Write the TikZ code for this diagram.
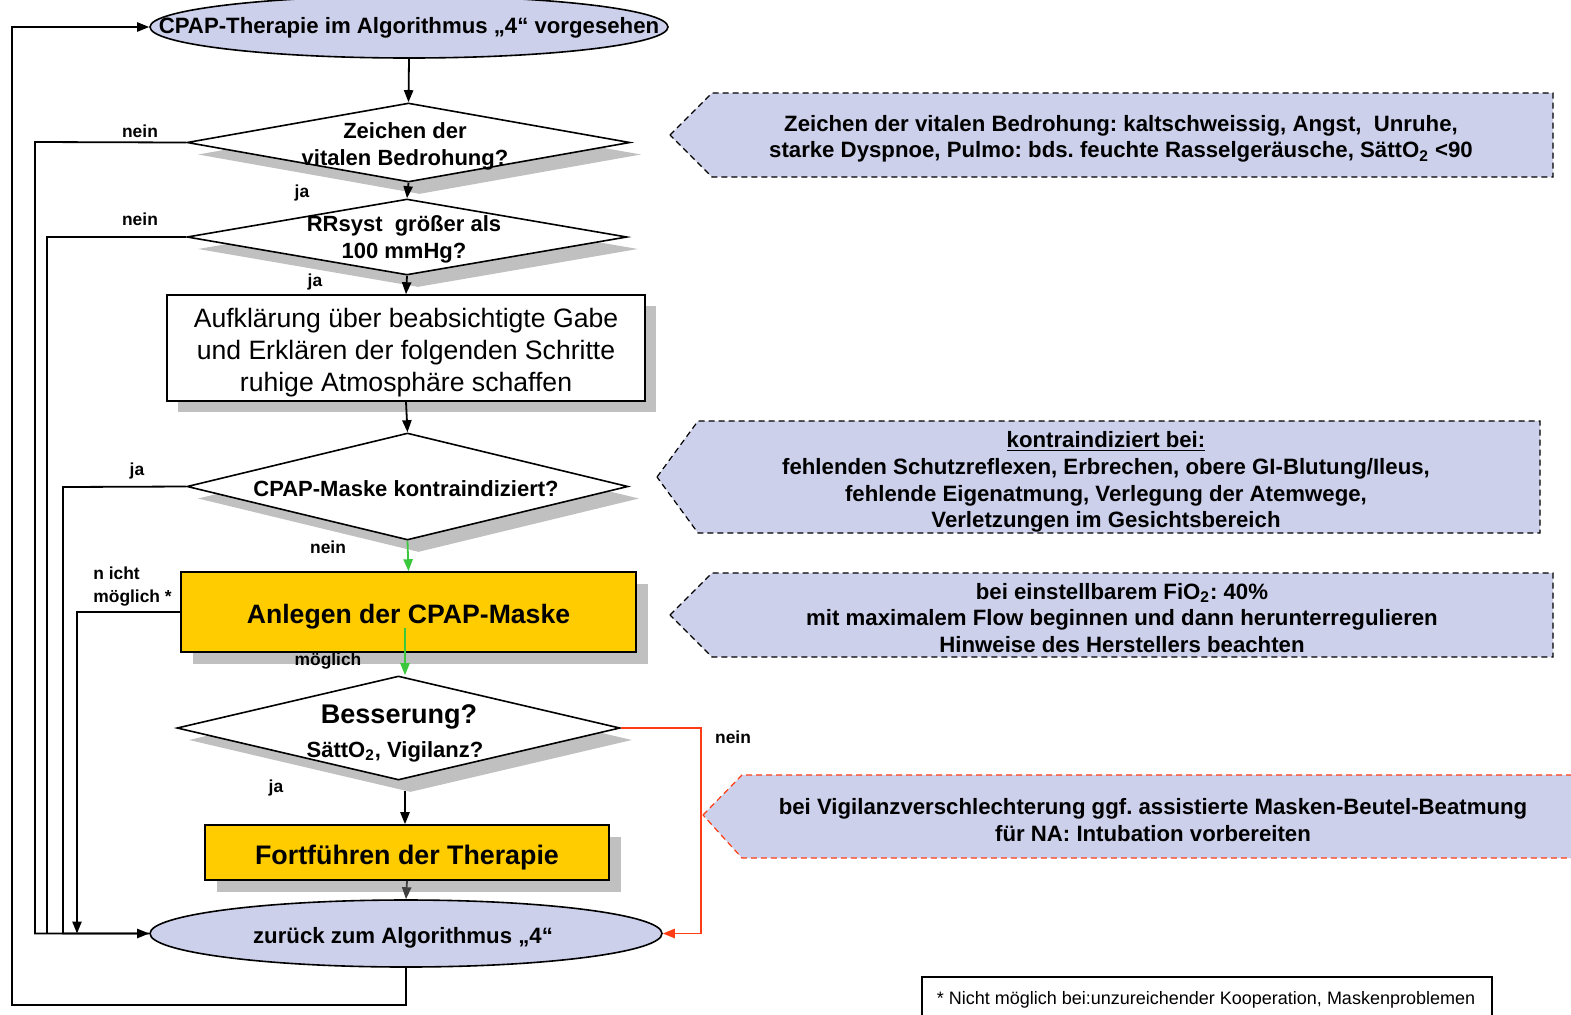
\documentclass[tikz,border=0pt]{standalone}
\usepackage{fontspec}
\setmainfont{Liberation Sans}
\usetikzlibrary{shapes.geometric,arrows.meta,calc}
\frenchspacing

\definecolor{lav}{RGB}{204,208,234}
\definecolor{gold}{RGB}{255,204,0}
\definecolor{shade}{RGB}{192,192,192}
\definecolor{okgreen}{RGB}{60,200,60}
\definecolor{alarm}{RGB}{255,60,20}

\tikzset{
  tip/.style={-{Triangle[length=6pt,width=4.6pt]}},
  conn/.style={line width=0.9pt, tip},
  wire/.style={line width=0.9pt},
  lbl/.style={font=\bfseries\fontsize{8.7}{11.5}\selectfont, inner sep=0pt, align=left},
  term/.style={ellipse, draw, fill=lav, line width=0.8pt, inner sep=0pt},
  termtext/.style={font=\bfseries\fontsize{11.1}{13}\selectfont, inner sep=0pt},
  decision/.style={diamond, draw, fill=white, line width=0.8pt, inner sep=0pt},
  decshadow/.style={diamond, fill=shade, inner sep=0pt},
  dtext/.style={font=\bfseries\fontsize{11}{13.5}\selectfont, align=center, inner sep=0pt},
  stepbox/.style={draw, line width=0.8pt, inner sep=0pt},
  boxshadow/.style={fill=shade, inner sep=0pt},
  boxtext/.style={font=\fontsize{13.3}{16}\selectfont, align=center, inner sep=0pt},
  bigtext/.style={font=\bfseries\fontsize{13.3}{15}\selectfont, inner sep=0pt},
  note/.style={fill=lav, dashed, dash pattern=on 3pt off 2pt, line width=0.6pt},
  notetext/.style={font=\bfseries\fontsize{11.1}{13.3}\selectfont, align=center, inner sep=0pt},
}

\begin{document}
\begin{tikzpicture}[x=0.5pt,y=-0.5pt]
\useasboundingbox (0,0) rectangle (1571,1014);

% ---- start terminal ----
\node[term, minimum width=259pt, minimum height=31pt] (start) at (409,27) {};
\node[termtext] (startt) at (409,28) {CPAP-Therapie im Algorithmus „4“ vorgesehen};

% ---- decision 1 ----
\node[decshadow, minimum width=221.5pt, minimum height=39.5pt] (d1s) at (419.5,154.5) {};
\node[decision, minimum width=221.5pt, minimum height=39.5pt] (d1) at (408.5,142.5) {};
\node[dtext] (d1t) at (405,146) {Zeichen der\\vitalen Bedrohung?};

% ---- decision 2 ----
\node[decshadow, minimum width=220pt, minimum height=38pt] (d2s) at (418,249) {};
\node[decision, minimum width=220pt, minimum height=38pt] (d2) at (407,237) {};
\node[dtext] (d2t) at (404,239.5) {RRsyst\ \ größer als\\100 mmHg?};

% ---- information box ----
\node[boxshadow, minimum width=239pt, minimum height=53pt] (infos) at (417,359) {};
\node[stepbox, fill=white, minimum width=239pt, minimum height=53pt] (info) at (406,348) {};
\node[boxtext] (infot) at (406,353)
  {Aufklärung über beabsichtigte Gabe\\und Erklären der folgenden Schritte\\ruhige Atmosphäre schaffen};

% ---- decision 3 ----
\node[decshadow, minimum width=220.5pt, minimum height=53.5pt] (d3s) at (418.5,498.5) {};
\node[decision, minimum width=220.5pt, minimum height=53.5pt] (d3) at (407.5,486.5) {};
\node[dtext] (d3t) at (406,489) {CPAP-Maske kontraindiziert?};

% ---- apply mask ----
\node[boxshadow, minimum width=227.5pt, minimum height=40pt] (masks) at (420.5,624) {};
\node[stepbox, fill=gold, minimum width=227.5pt, minimum height=40pt] (mask) at (408.5,612) {};
\node[bigtext] (maskt) at (408.5,617) {Anlegen der CPAP-Maske};

% ---- decision 4 ----
\node[decshadow, minimum width=221.5pt, minimum height=52pt] (d4s) at (410.5,740) {};
\node[decision, minimum width=221.5pt, minimum height=52pt] (d4) at (398.5,728) {};
\node[bigtext, font=\bfseries\fontsize{13.5}{15}\selectfont] (d4t) at (399,717) {Besserung?};
\node[dtext] (d4u) at (395,752) {SättO\textsubscript{2}, Vigilanz?};

% ---- continue therapy ----
\node[boxshadow, minimum width=202pt, minimum height=27.5pt] (conts) at (419,864.5) {};
\node[stepbox, fill=gold, minimum width=202pt, minimum height=27.5pt] (cont) at (407,852.5) {};
\node[bigtext, font=\bfseries\fontsize{13.4}{15}\selectfont] (contt) at (407,857.5) {Fortführen der Therapie};

% ---- end terminal ----
\node[term, minimum width=256pt, minimum height=33.5pt] (back) at (406,933.5) {};
\node[termtext] (backt) at (403,938) {zurück zum Algorithmus „4“};

% ---- main column connectors ----
\draw[conn] (start.south) -- (d1.north);
\draw[conn] (d1.south) -- (d2.north);
\draw[conn] (d2.south) -- (info.north);
\draw[conn] (info.south) -- (d3.north);
\draw[conn, okgreen] (d3.south) -- (mask.north);
\coordinate (maskout) at (405,628);
\draw[conn, okgreen] (maskout) -- (d4.north -| maskout);
\draw[conn] (d4.south -| maskout) ++(0,10) -- (cont.north -| maskout);
\draw[conn, black!75] (cont.south) -- (back.north);

% ---- side branches into the end terminal ----
\coordinate (railA) at (35,142);
\coordinate (railB) at (47,237);
\coordinate (railC) at (63,487);
\coordinate (railD) at (77,933.5);
\draw[conn] (d1.west) -- (railA) |- (back.west);
\draw[wire] (d2.west) -- (railB) |- (back.west);
\draw[wire] (d3.west) -- (railC) |- (back.west);
\draw[conn] (mask.west) -| (railD);
\draw[conn, alarm] (d4.east) -- ++(80,0) |- (back.east);

% ---- loop back to the start ----
\coordinate (loop) at (12,1005);
\draw[conn] (back.south) |- (loop) |- (start.west);

% ---- branch labels ----
\node[lbl] at (140,131) {nein};
\node[lbl] at (302,193) {ja};
\node[lbl] at (140,219) {nein};
\node[lbl] at (315,282) {ja};
\node[lbl] at (137,471) {ja};
\node[lbl] at (328,547) {nein};
\node[lbl, anchor=west] at (93,587) {n icht\\möglich *};
\node[lbl] at (328,661) {möglich};
\node[lbl] at (733,737) {nein};
\node[lbl] at (276,788) {ja};

% ---- hint callouts ----
\draw[note] (670,135) -- (712,93) -- (1553,93) -- (1553,177) -- (712,177) -- cycle;
\node[notetext] (hint1) at (1121,139)
  {Zeichen der vitalen Bedrohung: kaltschweissig, Angst,\ \ Unruhe,\\
   starke Dyspnoe, Pulmo: bds. feuchte Rasselgeräusche, SättO\textsubscript{2} <90};

\draw[note] (657,477) -- (698,421) -- (1540,421) -- (1540,533) -- (698,533) -- cycle;
\node[notetext] (hint2) at (1106,482)
  {\underline{kontraindiziert bei:}\\
   fehlenden Schutzreflexen, Erbrechen, obere GI-Blutung/Ileus,\\
   fehlende Eigenatmung, Verlegung der Atemwege,\\
   Verletzungen im Gesichtsbereich};

\draw[note] (670,615) -- (712,573) -- (1553,573) -- (1553,657) -- (712,657) -- cycle;
\node[notetext] (hint3) at (1122,618)
  {bei einstellbarem FiO\textsubscript{2}: 40\%\\
   mit maximalem Flow beginnen und dann herunterregulieren\\
   Hinweise des Herstellers beachten};

\draw[note, draw=alarm] (703,815) -- (742,775) -- (1590,775) -- (1590,858) -- (742,858) -- cycle;
\node[notetext] (hint4) at (1153,820)
  {bei Vigilanzverschlechterung ggf. assistierte Masken-Beutel-Beatmung\\
   für NA: Intubation vorbereiten};

% ---- footnote ----
\draw[line width=0.7pt] (922,1025) |- (1492,977) -- (1492,1025);
\node[font=\fontsize{9}{10}\selectfont, inner sep=0pt] (foot) at (1206,1000)
  {* Nicht möglich bei:unzureichender Kooperation, Maskenproblemen};
\end{tikzpicture}
\end{document}
